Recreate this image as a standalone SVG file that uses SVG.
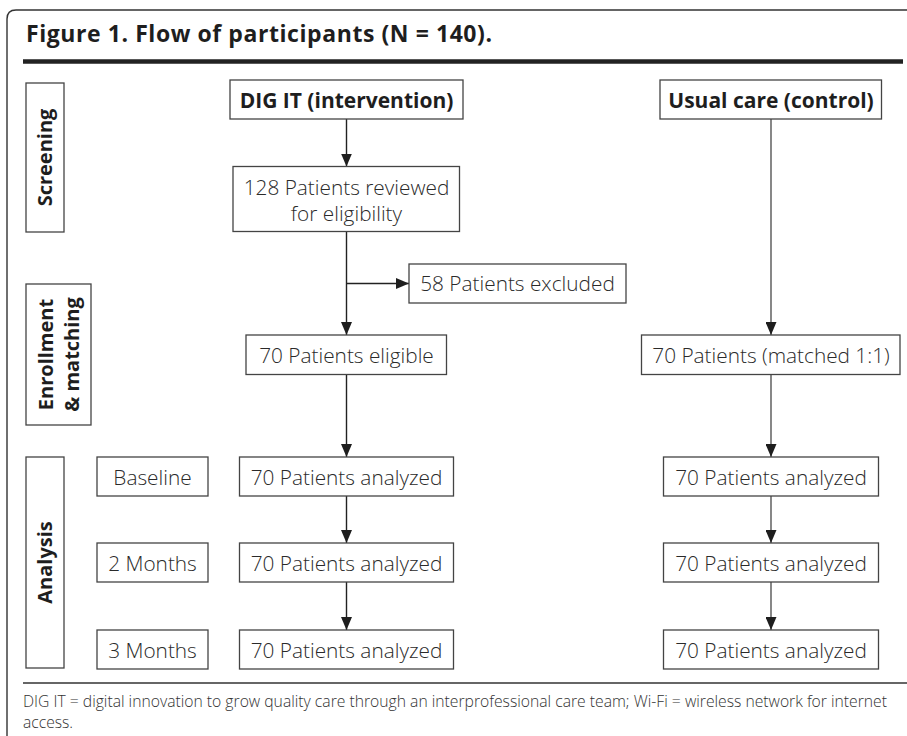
<svg xmlns="http://www.w3.org/2000/svg" width="907" height="736" viewBox="0 0 907 736">
<style>
  .frame { fill: none; stroke: #333; stroke-width: 1.4; }
  .box { fill: #fff; stroke: #444; stroke-width: 1.3; }
  .t { font-family: "Open Sans", "Noto Sans", "DejaVu Sans", sans-serif; font-size: 20.8px; font-weight: 300; fill: #2a2a2a; text-anchor: middle; }
  .b { font-family: "Open Sans", "Noto Sans", "DejaVu Sans", sans-serif; font-size: 21px; font-weight: 700; fill: #1e1e1e; text-anchor: middle; }
  .v { font-family: "Open Sans", "Noto Sans", "DejaVu Sans", sans-serif; font-size: 20px; font-weight: 700; fill: #1e1e1e; text-anchor: middle; }
  .c { fill: none; stroke: #222; stroke-width: 1.4; }
  .c2 { fill: none; stroke: #555; stroke-width: 1.4; }
  .foot { font-family: "Open Sans", "Noto Sans", "DejaVu Sans", sans-serif; font-size: 16px; font-weight: 300; fill: #333; }
</style>
<defs>
  <marker id="ah" markerUnits="userSpaceOnUse" markerWidth="13" markerHeight="11" refX="13" refY="5.5" orient="auto">
    <path d="M0,0 L13,5.5 L0,11 z" fill="#1e1e1e"/>
  </marker>
</defs>
<rect width="907" height="736" fill="#fff"/>
<!-- frame -->
<path class="frame" d="M7,736 L7,19 Q7,10 16,10 L907,10"/>
<text x="26" y="42" font-family="'Open Sans', 'Noto Sans', sans-serif" font-size="23" font-weight="700" fill="#1e1e1e" textLength="466" lengthAdjust="spacing">Figure 1. Flow of participants (N = 140).</text>
<line x1="23" y1="61.5" x2="903" y2="61.5" stroke="#222" stroke-width="4.5"/>
<line x1="23" y1="683" x2="907" y2="683" stroke="#666" stroke-width="2.2"/>
<text class="foot" x="23" y="707" textLength="864" lengthAdjust="spacingAndGlyphs">DIG IT = digital innovation to grow quality care through an interprofessional care team; Wi-Fi = wireless network for internet</text>
<text class="foot" x="23" y="728" textLength="50" lengthAdjust="spacingAndGlyphs">access.</text>

<!-- connectors -->
<g id="connectors">
  <line class="c" x1="346.5" y1="119" x2="346.5" y2="166.5" marker-end="url(#ah)"/>
  <line class="c" x1="346.5" y1="231.5" x2="346.5" y2="335" marker-end="url(#ah)"/>
  <line class="c" x1="346.5" y1="283.5" x2="409" y2="283.5" marker-end="url(#ah)"/>
  <line class="c" x1="346.5" y1="374.5" x2="346.5" y2="457" marker-end="url(#ah)"/>
  <line class="c" x1="346.5" y1="496" x2="346.5" y2="543" marker-end="url(#ah)"/>
  <line class="c" x1="346.5" y1="582" x2="346.5" y2="630" marker-end="url(#ah)"/>
  <line class="c2" x1="771" y1="119" x2="771" y2="335" marker-end="url(#ah)"/>
  <line class="c2" x1="771" y1="374.5" x2="771" y2="457" marker-end="url(#ah)"/>
  <line class="c2" x1="771" y1="496" x2="771" y2="543" marker-end="url(#ah)"/>
  <line class="c2" x1="771" y1="582" x2="771" y2="630" marker-end="url(#ah)"/>
</g>

<!-- stage labels -->
<g id="stage-screening">
  <rect class="box" x="26" y="83" width="38" height="149"/>
  <text class="v" transform="translate(52,157.5) rotate(-90)">Screening</text>
</g>
<g id="stage-enrollment">
  <rect class="box" x="26" y="284" width="65" height="141"/>
  <text class="v" transform="translate(53,354.5) rotate(-90)">Enrollment</text>
  <text class="v" transform="translate(79,354.5) rotate(-90)">&amp; matching</text>
</g>
<g id="stage-analysis">
  <rect class="box" x="26" y="457" width="38" height="211"/>
  <text class="v" transform="translate(52,562.5) rotate(-90)">Analysis</text>
</g>

<!-- time labels -->
<g id="time-baseline">
  <rect class="box" x="97" y="457" width="111" height="39"/>
  <text class="t" x="152.5" y="485">Baseline</text>
</g>
<g id="time-2m">
  <rect class="box" x="97" y="543" width="111" height="39"/>
  <text class="t" x="152.5" y="571">2 Months</text>
</g>
<g id="time-3m">
  <rect class="box" x="97" y="630" width="111" height="39"/>
  <text class="t" x="152.5" y="658">3 Months</text>
</g>

<!-- intervention column -->
<g id="digit">
  <rect class="box" x="230" y="80" width="233" height="39"/>
  <text class="b" x="346.5" y="108">DIG IT (intervention)</text>
</g>
<g id="reviewed">
  <rect class="box" x="233" y="166.5" width="226.5" height="65"/>
  <text class="t" x="346.5" y="195">128 Patients reviewed</text>
  <text class="t" x="346.5" y="221">for eligibility</text>
</g>
<g id="excluded">
  <rect class="box" x="409" y="264" width="217" height="39"/>
  <text class="t" x="517.5" y="291">58 Patients excluded</text>
</g>
<g id="eligible">
  <rect class="box" x="246" y="335" width="200.5" height="39.5"/>
  <text class="t" x="346.5" y="363">70 Patients eligible</text>
</g>
<g id="int-baseline">
  <rect class="box" x="239.5" y="457" width="214" height="39"/>
  <text class="t" x="346.5" y="485">70 Patients analyzed</text>
</g>
<g id="int-2m">
  <rect class="box" x="239.5" y="543" width="214" height="39"/>
  <text class="t" x="346.5" y="571">70 Patients analyzed</text>
</g>
<g id="int-3m">
  <rect class="box" x="239.5" y="630" width="214" height="39"/>
  <text class="t" x="346.5" y="658">70 Patients analyzed</text>
</g>

<!-- control column -->
<g id="usual">
  <rect class="box" x="660" y="80" width="221.5" height="39"/>
  <text class="b" x="771" y="108">Usual care (control)</text>
</g>
<g id="matched">
  <rect class="box" x="641.5" y="335" width="258.5" height="39.5"/>
  <text class="t" x="771" y="363">70 Patients (matched 1:1)</text>
</g>
<g id="ctl-baseline">
  <rect class="box" x="663.5" y="457" width="215" height="39"/>
  <text class="t" x="771" y="485">70 Patients analyzed</text>
</g>
<g id="ctl-2m">
  <rect class="box" x="663.5" y="543" width="215" height="39"/>
  <text class="t" x="771" y="571">70 Patients analyzed</text>
</g>
<g id="ctl-3m">
  <rect class="box" x="663.5" y="630" width="215" height="39"/>
  <text class="t" x="771" y="658">70 Patients analyzed</text>
</g>
</svg>
